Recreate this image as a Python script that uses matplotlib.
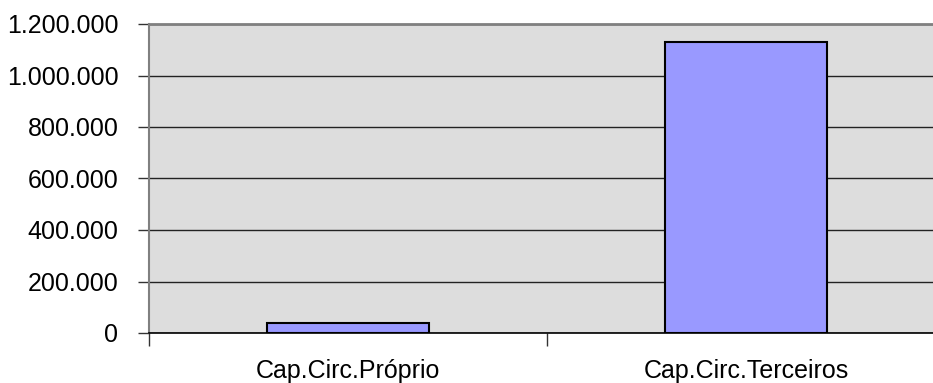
import matplotlib.pyplot as plt
from matplotlib.ticker import FuncFormatter

plt.rcParams['font.family'] = ['Liberation Sans', 'DejaVu Sans']

categorias = ["Cap.Circ.Próprio", "Cap.Circ.Terceiros"]
valores = [40000, 1130000]
yticks = [0, 200000, 400000, 600000, 800000, 1000000, 1200000]

fig = plt.figure(figsize=(9.33, 3.83), dpi=100)
ax = fig.add_axes([149 / 933, 50 / 383, 796 / 933, 309 / 383])
ax.set_facecolor("#DDDDDD")

pos = list(range(len(categorias)))
ax.bar(pos, valores, width=0.405, color="#9999FF", edgecolor="black",
       linewidth=1.5, zorder=3)

ax.set_xlim(-0.5, len(categorias) - 0.5)
ax.set_ylim(0, 1200000)

# eixo y com separador de milhar em ponto
ax.set_yticks(yticks)
ax.yaxis.set_major_formatter(FuncFormatter(lambda v, p: f"{int(v):,}".replace(",", ".")))
ax.grid(axis="y", color="#222222", linewidth=1.0, zorder=1)
ax.tick_params(axis="y", length=8, width=1, color="#333333",
               labelsize=18, pad=14)

# rótulos no centro, marcas entre as categorias
ax.set_xticks(pos)
ax.set_xticklabels(categorias)
ax.set_xticks([p - 0.5 for p in pos] + [pos[-1] + 0.5], minor=True)
ax.tick_params(axis="x", which="major", length=0, labelsize=18, pad=19)
ax.tick_params(axis="x", which="minor", length=9, width=1, color="#333333")

for lado in ["right"]:
    ax.spines[lado].set_visible(False)
ax.spines["top"].set_color("#808080")
ax.spines["top"].set_linewidth(2)
ax.spines["left"].set_color("#808080")
ax.spines["left"].set_linewidth(1.5)
ax.spines["bottom"].set_color("black")
ax.spines["bottom"].set_linewidth(1.2)

fig.savefig("out.png", dpi=100)
